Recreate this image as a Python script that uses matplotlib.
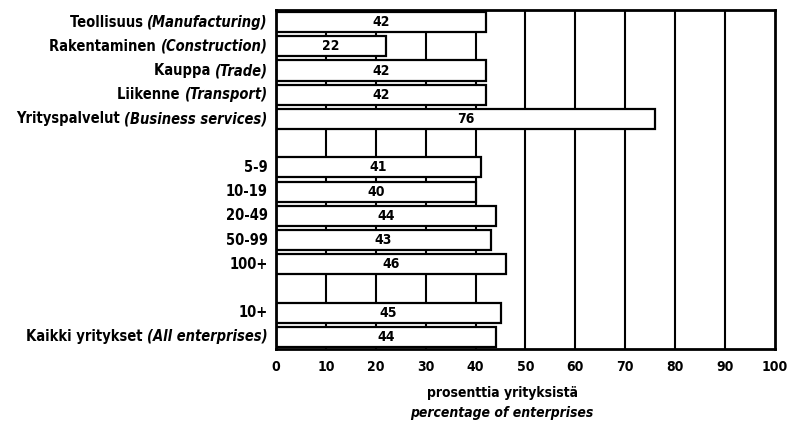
import matplotlib
matplotlib.use('Agg')
import matplotlib.pyplot as plt
from matplotlib import font_manager

# row labels: Finnish part + English part (None = empty gap row)
fi_labels = ['Teollisuus', 'Rakentaminen', 'Kauppa', 'Liikenne', 'Yrityspalvelut', None,
             '5-9', '10-19', '20-49', '50-99', '100+', None,
             '10+', 'Kaikki yritykset']
en_labels = ['(Manufacturing)', '(Construction)', '(Trade)', '(Transport)', '(Business services)', None,
             None, None, None, None, None, None,
             None, '(All enterprises)']
values = [42, 22, 42, 42, 76, None,
          41, 40, 44, 43, 46, None,
          45, 44]
xticks = [0, 10, 20, 30, 40, 50, 60, 70, 80, 90, 100]
xlabel_fi = 'prosenttia yrityksistä'
xlabel_en = 'percentage of enterprises'

names = {f.name for f in font_manager.fontManager.ttflist}
if 'Liberation Sans Narrow' in names:
    FONT = 'Liberation Sans Narrow'
    STRETCH = 'normal'
else:
    FONT = 'DejaVu Sans'
    STRETCH = 'condensed'
plt.rcParams['font.family'] = [FONT, 'DejaVu Sans']

fig = plt.figure(figsize=(7.87, 4.33), dpi=100)
ax = fig.add_axes([0.3507, 0.194, 0.634, 0.783])

for x in xticks[1:-1]:
    ax.axvline(x, color='black', lw=1.5, zorder=1)

for i, v in enumerate(values):
    if v is None:
        continue
    ax.barh(i, v, height=0.83, color='white', edgecolor='black', lw=1.6, zorder=2)
    ax.text(v / 2, i, str(v), ha='center', va='center', fontsize=10,
            fontweight='bold', fontstretch=STRETCH, zorder=3)

ax.set_xlim(0, 100)
ax.set_ylim(13.5, -0.5)
ax.set_yticks([])
ax.set_xticks(xticks)
ax.set_xticklabels([str(t) for t in xticks], fontsize=10, fontweight='bold', fontstretch=STRETCH)
ax.tick_params(axis='x', length=0, pad=8)
for s in ax.spines.values():
    s.set_linewidth(2)

# y labels: Finnish bold upright, English bold italic, right-aligned left of axes
for i, fi in enumerate(fi_labels):
    if fi is None:
        continue
    en = en_labels[i]
    if en:
        t = ax.annotate(en, xy=(0, i), xycoords=('axes fraction', 'data'),
                        xytext=(-6, 0), textcoords='offset points',
                        ha='right', va='center', fontsize=10.5, fontweight='bold',
                        fontstyle='italic', fontstretch=STRETCH)
        ax.annotate(fi + ' ', xy=(0, 0.5), xycoords=t, ha='right', va='center',
                    fontsize=10.5, fontweight='bold', fontstretch=STRETCH)
    else:
        ax.annotate(fi, xy=(0, i), xycoords=('axes fraction', 'data'),
                    xytext=(-6, 0), textcoords='offset points',
                    ha='right', va='center', fontsize=10.5, fontweight='bold',
                    fontstretch=STRETCH)

fig.text(0.638, 0.093, xlabel_fi, ha='center', va='center', fontsize=10,
         fontweight='bold', fontstretch=STRETCH)
fig.text(0.638, 0.046, xlabel_en, ha='center', va='center', fontsize=10,
         fontweight='bold', fontstyle='italic', fontstretch=STRETCH)

fig.savefig('out.png', dpi=100)
